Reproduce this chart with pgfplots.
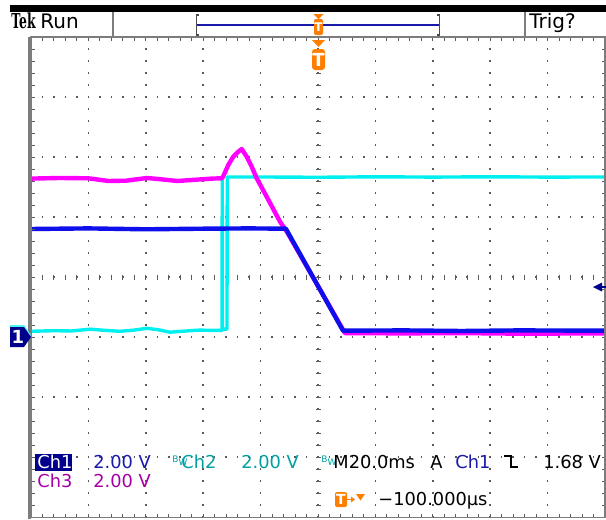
\documentclass[border=0pt]{standalone}
\usepackage{pgfplots}
\pgfplotsset{compat=1.18}
\usepackage{fontspec}
\setmainfont{DejaVu Sans}
\newfontfamily\tekfont{DejaVu Serif}
\definecolor{trblue}{RGB}{15,15,235}
\definecolor{trmag}{RGB}{255,0,255}
\definecolor{trcyan}{RGB}{0,240,240}
\definecolor{navy}{RGB}{0,0,140}
\definecolor{tblue}{RGB}{25,25,170}
\definecolor{tteal}{RGB}{0,160,160}
\definecolor{tpurp}{RGB}{165,0,165}
\definecolor{tekorange}{RGB}{255,125,0}
\definecolor{bordergray}{RGB}{125,125,125}
\definecolor{gridc}{RGB}{90,90,90}
\begin{document}
\begin{tikzpicture}
\path[use as bounding box] (0,0) rectangle (303pt,-260pt);
\fill[white] (0,0) rectangle (303pt,-260pt);
% ---------- grid (px units, y down) ----------
\begin{scope}[x=0.5pt,y=-0.5pt]
\foreach \k in {1,...,9}{
  \draw[gridc, line width=0.75pt, dash pattern=on 0.75pt off 5.25pt, dash phase=0.375pt] ({31+57.4*\k},37) -- ({31+57.4*\k},517);
}
\foreach \j in {1,...,7}{
  \draw[gridc, line width=0.75pt, dash pattern=on 0.75pt off 4.99pt, dash phase=0.375pt] (31,{37+60*\j}) -- (605,{37+60*\j});
}
% centre cross ticks
\foreach \m in {0,...,40}{
  \draw[gridc, line width=0.5pt] (315.5,{37+12*\m}) -- (320.5,{37+12*\m});
}
\foreach \m in {0,...,50}{
  \draw[gridc, line width=0.5pt] ({31+11.48*\m},274.5) -- ({31+11.48*\m},279.5);
}
\end{scope}
% ---------- traces ----------
\begin{axis}[at={(15.5pt,-18.5pt)}, anchor=north west,
  width=287pt, height=240pt, scale only axis,
  xmin=-5, xmax=5, ymin=-4, ymax=4,
  axis line style={draw=none}, ticks=none, clip=true]
% Ch2 (cyan)
\addplot[trcyan, line width=1.7pt, line join=round] coordinates {
(-5.00,-0.905) (-4.60,-0.895) (-4.30,-0.900) (-3.97,-0.870) (-3.70,-0.890)
(-3.45,-0.905) (-3.20,-0.885) (-2.98,-0.855) (-2.78,-0.880) (-2.58,-0.920)
(-2.30,-0.900) (-2.06,-0.885) (-1.85,-0.890) (-1.672,-0.890)
(-1.668,1.667) (-1.664,-0.870) (-1.586,-0.870) (-1.581,1.667)
(-1.00,1.667) (0.00,1.662) (1.00,1.670) (2.00,1.665) (3.00,1.670) (4.00,1.665) (5.00,1.667)
};
% Ch3 (magenta)
\addplot[trmag, line width=2.2pt, line join=round] coordinates {
(-5.00,1.64) (-4.50,1.65) (-4.00,1.645) (-3.65,1.60) (-3.35,1.605) (-2.98,1.65)
(-2.75,1.63) (-2.45,1.60) (-2.15,1.62) (-1.85,1.64) (-1.68,1.645)
(-1.654,1.672) (-1.563,1.867) (-1.476,2.005) (-1.389,2.088) (-1.329,2.133)
(-1.242,2.005) (-1.155,1.838) (-1.068,1.645) (-0.894,1.338) (-0.662,0.922)
(-0.540,0.750) (0.470,-0.935) (1.50,-0.940) (2.50,-0.935) (3.50,-0.945) (5.00,-0.940)
};
% Ch1 (blue)
\addplot[trblue, line width=2.2pt, line join=round] coordinates {
(-5.00,0.800) (-4.00,0.810) (-3.00,0.795) (-2.00,0.805) (-1.20,0.810) (-0.56,0.805)
(0.436,-0.895) (1.50,-0.890) (2.50,-0.900) (3.50,-0.890) (5.00,-0.895)
};
\end{axis}
% ---------- frame, markers, text ----------
\begin{scope}[x=0.5pt,y=-0.5pt]
% border ticks
\foreach \m in {0,...,50}{
  \draw[gridc, line width=0.5pt] ({31+11.48*\m},37) -- ++(0,3.5);
  \draw[gridc, line width=0.5pt] ({31+11.48*\m},517) -- ++(0,-3.5);
}
\foreach \m in {0,...,40}{
  \draw[gridc, line width=0.5pt] (31,{37+12*\m}) -- ++(3.5,0);
  \draw[gridc, line width=0.5pt] (605,{37+12*\m}) -- ++(-3.5,0);
}
\draw[bordergray, line width=0.9pt] (31,37) rectangle (605,517.5);
\draw[bordergray, line width=1.6pt] (29.5,36.5) -- (29.5,518.5);
% status bar
\fill[black] (10,5) rectangle (606,12);
\draw[bordergray, line width=0.6pt] (113,12) -- (113,36);
\draw[bordergray, line width=0.6pt] (525,12) -- (525,36);
\node[anchor=base west, inner sep=0, font=\tekfont\bfseries\fontsize{10.3}{11}\selectfont] at (11,28.5) {\scalebox{0.6}[1]{Tek}};
\node[anchor=base west, inner sep=0, font=\fontsize{10}{11}\selectfont] at (40,28.5) {Run};
\node[anchor=base west, inner sep=0, font=\fontsize{10}{11}\selectfont] at (529,28.5) {Trig?};
% record bracket
\draw[black!70, line width=0.6pt] (199,15) -- (196.5,15) -- (196.5,35) -- (199,35);
\draw[black!70, line width=0.6pt] (437,15) -- (439.5,15) -- (439.5,35) -- (437,35);
\draw[tblue, line width=0.6pt] (197,25) -- (439,25);
\fill[tekorange] (313.5,14) -- (323.5,14) -- (318.5,19) -- cycle;
\fill[tekorange, rounded corners=1pt] (314,19) rectangle (323,35);
\node[white, inner sep=0, font=\bfseries\fontsize{6}{6}\selectfont] at (318.5,27) {T};
% trigger position marker
\fill[tekorange] (312,40) -- (325,40) -- (318.5,47) -- cycle;
\fill[tekorange, rounded corners=1.5pt] (312,49) rectangle (325,70);
\node[white, inner sep=0, font=\bfseries\fontsize{9}{9}\selectfont] at (318.5,59.5) {T};
% Ch1 ground marker
\fill[trcyan!70] (10,325) -- (24,325) -- (31,335) -- (24,345) -- (10,345) -- cycle;
\fill[navy] (10,327) -- (24,327) -- (31,337) -- (24,347) -- (10,347) -- cycle;
\node[white, inner sep=0, font=\bfseries\fontsize{9}{9}\selectfont] at (18,337) {1};
% trigger level arrow
\fill[navy] (593,287) -- (602,282.5) -- (602,291.5) -- cycle;
\draw[navy, line width=0.9pt] (600,287) -- (606,287);
% readouts
\fill[navy] (35,454) rectangle (72,471);
\node[anchor=base west, inner sep=0, text=white, font=\fontsize{8.9}{10}\selectfont] at (37,468) {Ch1};
\node[anchor=base west, inner sep=0, text=tblue, font=\fontsize{8.9}{10}\selectfont] at (93,468) {2.00 V};
\node[anchor=base west, inner sep=0, text=tteal, font=\fontsize{4.5}{5}\selectfont] at (172,462) {B\raisebox{-1.6pt}{W}};
\node[anchor=base west, inner sep=0, text=tteal, font=\fontsize{8.9}{10}\selectfont] at (181,468) {Ch2};
\node[anchor=base west, inner sep=0, text=tteal, font=\fontsize{8.9}{10}\selectfont] at (241,468) {2.00 V};
\node[anchor=base west, inner sep=0, text=tteal, font=\fontsize{4.5}{5}\selectfont] at (321,462) {B\raisebox{-1.6pt}{W}};
\node[anchor=base west, inner sep=0, font=\fontsize{8.9}{10}\selectfont] at (333,468) {M20.0ms};
\node[anchor=base west, inner sep=0, font=\fontsize{8.9}{10}\selectfont] at (430,468) {A};
\node[anchor=base west, inner sep=0, text=tblue, font=\fontsize{8.9}{10}\selectfont] at (455,468) {Ch1};
\draw[black, line width=1pt] (504,456) -- (511,456) -- (511,467) -- (518,467);
\node[anchor=base west, inner sep=0, font=\fontsize{8.9}{10}\selectfont] at (543,468) {1.68 V};
\node[anchor=base west, inner sep=0, text=tpurp, font=\fontsize{8.9}{10}\selectfont] at (37,487) {Ch3};
\node[anchor=base west, inner sep=0, text=tpurp, font=\fontsize{8.9}{10}\selectfont] at (93,487) {2.00 V};
\fill[tekorange, rounded corners=1pt] (335,492) rectangle (347,507);
\node[white, inner sep=0, font=\bfseries\fontsize{7}{7}\selectfont] at (341,499.5) {T};
\draw[tekorange, line width=0.8pt] (347,499.5) -- (352,499.5);
\fill[tekorange] (351,496.5) -- (355,499.5) -- (351,502.5) -- cycle;
\fill[tekorange] (356,494) -- (365,494) -- (360.5,500.5) -- cycle;
\node[anchor=base west, inner sep=0, font=\fontsize{8.9}{10}\selectfont] at (378,505) {−100.000µs};
\end{scope}
\end{tikzpicture}
\end{document}
